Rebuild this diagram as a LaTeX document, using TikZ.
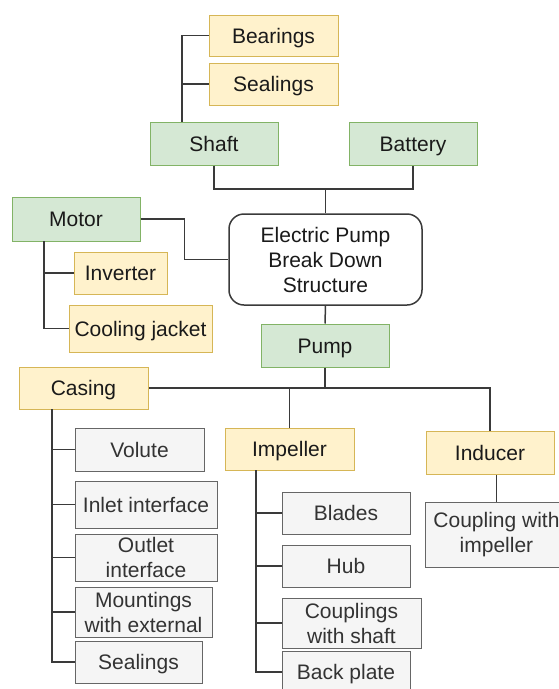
\documentclass[tikz,border=0pt]{standalone}
\usepackage{fontspec}
\setmainfont{Liberation Sans}
\definecolor{gfill}{HTML}{D5E8D4}
\definecolor{gdraw}{HTML}{82B366}
\definecolor{yfill}{HTML}{FFF2CC}
\definecolor{ydraw}{HTML}{D6B656}
\definecolor{hfill}{HTML}{F5F5F5}
\definecolor{hdraw}{HTML}{666666}
\definecolor{htext}{HTML}{333333}
\definecolor{ltext}{HTML}{1A1A1A}
\definecolor{conncol}{HTML}{3A3A3A}
\tikzset{
  box/.style={rectangle, inner sep=0pt, line width=1pt, align=center,
    font=\fontsize{21}{25}\selectfont},
  oneline/.style={text height=15pt, text depth=0pt},
  greenbox/.style={box, fill=gfill, draw=gdraw, text=ltext},
  yellowbox/.style={box, fill=yfill, draw=ydraw, text=ltext},
  graybox/.style={box, fill=hfill, draw=hdraw, text=htext},
  rootbox/.style={box, fill=white, draw=conncol, line width=1.5pt, rounded corners=15pt, text=ltext},
  conn/.style={draw=conncol, line width=1.5pt},
  wh/.style n args={2}{minimum width=#1pt, minimum height=#2pt}
}
\begin{document}
\begin{tikzpicture}[x=1pt,y=-1pt]
\useasboundingbox (0,0) rectangle (559,689);
\clip (0,0) rectangle (559,689);
% nodes
\node[yellowbox, oneline, wh={129}{41}] (bear) at (273.5,35.5) {Bearings};
\node[yellowbox, oneline, wh={129}{42}] (seal1) at (273.5,84) {Sealings};
\node[greenbox, oneline, wh={128}{43}] (shaft) at (214,143.5) {Shaft};
\node[greenbox, oneline, wh={128}{43}] (battery) at (413,143.5) {Battery};
\node[rootbox, wh={193}{91}] (root) at (325.5,259.5) {Electric Pump\\Break Down\\Structure};
\node[greenbox, oneline, wh={128}{44}] (motor) at (76,219) {Motor};
\node[yellowbox, oneline, wh={93}{42}] (inverter) at (120.5,273) {Inverter};
\node[yellowbox, oneline, wh={143}{47}] (cooling) at (140.5,328.5) {Cooling jacket};
\node[greenbox, oneline, wh={128}{43}] (pump) at (325,345.5) {Pump};
\node[yellowbox, oneline, wh={129}{42}] (casing) at (83.5,388) {Casing};
\node[yellowbox, oneline, wh={129}{42}] (impeller) at (289.5,449) {Impeller};
\node[yellowbox, oneline, wh={128}{43}] (inducer) at (490,452.5) {Inducer};
\node[graybox, oneline, wh={129}{43}] (volute) at (139.5,449.5) {Volute};
\node[graybox, oneline, wh={142}{47}] (inlet) at (146,504.5) {Inlet interface};
\node[graybox, wh={142}{47}] (outlet) at (146,557.5) {Outlet\\interface};
\node[graybox, wh={137}{50}] (mount) at (143.5,612) {Mountings\\with external};
\node[graybox, oneline, wh={127}{42}] (csealings) at (138.5,662) {Sealings};
\node[graybox, oneline, wh={128}{42}] (blades) at (346,513) {Blades};
\node[graybox, oneline, wh={128}{42}] (hub) at (346,566) {Hub};
\node[graybox, wh={139}{50}] (coupshaft) at (351.5,623) {Couplings\\with shaft};
\node[graybox, oneline, wh={128}{42}] (backplate) at (346,672) {Back plate};
\node[graybox, wh={142}{65}] (coupling) at (496.5,534.5) {Coupling with\\impeller};
% helper coordinates
\coordinate (shafttop) at (182,122);
\coordinate (bus1) at (325.5,189);
\coordinate (mb) at (44,241);
\coordinate (cb) at (52,409);
\coordinate (ib) at (256,470);
% connectors
\draw[conn] (bear.west) -| (shafttop);
\draw[conn] (seal1.west) -- (seal1.west -| shafttop);
\draw[conn] (shaft.south) |- (bus1) -| (battery.south);
\draw[conn] (root.north) -- (bus1);
\draw[conn] (motor.east) -- ++(44,0) |- (root.west);
\draw[conn] (mb) |- (cooling.west);
\draw[conn] (inverter.west) -- (inverter.west -| mb);
\draw[conn] (root.south) -- (pump.north);
\draw[conn] (pump.south) |- (casing.east);
\draw[conn] (pump.south |- casing.east) -| (inducer.north);
\draw[conn] (impeller.north) -- (impeller.north |- casing.east);
\draw[conn] (cb) |- (csealings.west);
\draw[conn] (volute.west) -- (volute.west -| cb);
\draw[conn] (inlet.west) -- (inlet.west -| cb);
\draw[conn] (outlet.west) -- (outlet.west -| cb);
\draw[conn] (mount.west) -- (mount.west -| cb);
\draw[conn] (ib) |- (backplate.west);
\draw[conn] (blades.west) -- (blades.west -| ib);
\draw[conn] (hub.west) -- (hub.west -| ib);
\draw[conn] (coupshaft.west) -- (coupshaft.west -| ib);
\draw[conn] (coupling.north) -- (coupling.north |- inducer.south);
\end{tikzpicture}
\end{document}
